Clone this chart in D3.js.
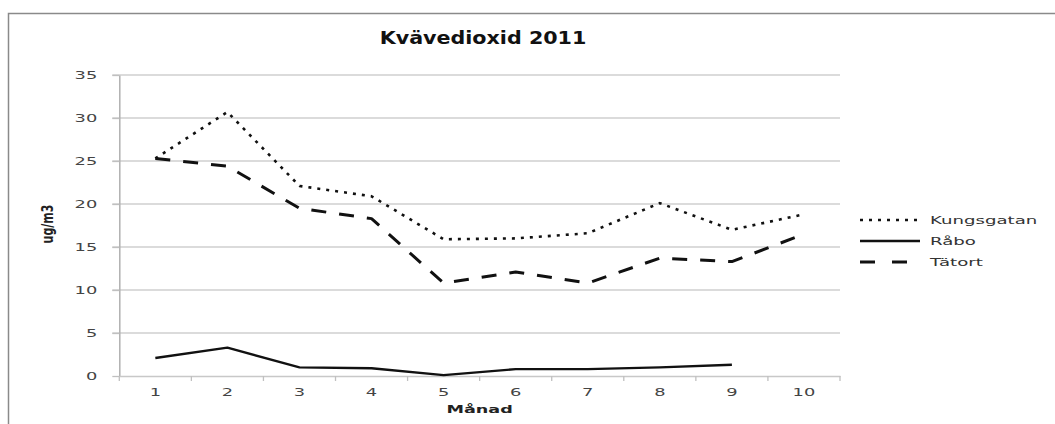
<!DOCTYPE html>
<html>
<head>
<meta charset="utf-8">
<script src="https://cdn.jsdelivr.net/npm/d3@7"></script>
<style>
  body { margin: 0; background: #fff; }
  svg { display: block; }
</style>
</head>
<body>
<div id="chart"></div>
<script>
// data
const months = [1, 2, 3, 4, 5, 6, 7, 8, 9, 10];
const kungsgatan = [25.3, 30.7, 22.1, 20.9, 15.9, 16.0, 16.6, 20.1, 17.0, 18.8];
const rabo = [2.1, 3.3, 1.0, 0.9, 0.1, 0.8, 0.8, 1.0, 1.3, null];
const tatort = [25.3, 24.4, 19.5, 18.3, 10.8, 12.1, 10.8, 13.7, 13.3, 16.5];
const yTicks = [0, 5, 10, 15, 20, 25, 30, 35];

const seriesList = [
  { name: 'Kungsgatan', values: kungsgatan, dash: '3,6', legDash: '3,6', width: 2.6 },
  { name: 'Råbo', values: rabo, dash: null, legDash: null, width: 2.4 },
  { name: 'Tätort', values: tatort, dash: '15,13', legDash: '15,17', width: 3 }
];

const W = 1055, H = 424;
const plot = { left: 119.3, right: 840, top: 75, bottom: 376 };

const svg = d3.select('#chart').append('svg')
  .attr('width', W)
  .attr('height', H);

// the picture is squeezed wide, so text gets a horizontal stretch
function stretch(sel, sx) {
  sel.each(function () {
    const t = d3.select(this);
    const x = +t.attr('x') || 0, y = +t.attr('y') || 0;
    t.attr('x', 0).attr('y', 0)
      .attr('transform', `translate(${x},${y}) scale(${sx},1)`);
  });
}

// outer frame
svg.append('rect')
  .attr('x', 8.5).attr('y', 13.5)
  .attr('width', W + 20).attr('height', H + 20)
  .attr('fill', 'none')
  .attr('stroke', '#8a8a8a')
  .attr('stroke-width', 1.5);

const x = d3.scaleBand().domain(months).range([plot.left, plot.right]).padding(0);
const y = d3.scaleLinear().domain([0, 35]).range([plot.bottom, plot.top]);
const cx = d => x(d) + x.bandwidth() / 2;

// gridlines
svg.append('g')
  .selectAll('line')
  .data(yTicks.filter(v => v > 0))
  .join('line')
  .attr('x1', plot.left - 7).attr('x2', plot.right)
  .attr('y1', d => y(d)).attr('y2', d => y(d))
  .attr('stroke', '#cfcfcf')
  .attr('stroke-width', 1.5);

// y axis
const yAxis = svg.append('g')
  .attr('transform', `translate(${plot.left},0)`)
  .call(d3.axisLeft(y).tickValues(yTicks).tickSize(7).tickSizeOuter(0));
yAxis.select('.domain').attr('stroke', '#b0b0b0').attr('stroke-width', 1.5);
yAxis.selectAll('.tick line').attr('stroke', '#c0c0c0').attr('stroke-width', 1.3);
yAxis.selectAll('.tick text')
  .attr('x', -22)
  .attr('dy', '0.36em')
  .style('font-family', 'DejaVu Sans')
  .style('font-size', '10.5px')
  .attr('fill', '#444')
  .attr('text-anchor', 'end')
  .call(stretch, 1.7);

// x axis
const xAxis = svg.append('g')
  .attr('transform', `translate(0,${plot.bottom})`)
  .call(d3.axisBottom(x).tickSize(0));
xAxis.select('.domain').attr('stroke', '#c8c8c8').attr('stroke-width', 1.5);
xAxis.selectAll('.tick text')
  .attr('y', 20)
  .attr('dy', 0)
  .style('font-family', 'DejaVu Sans')
  .style('font-size', '10.5px')
  .attr('fill', '#444')
  .attr('text-anchor', 'middle')
  .call(stretch, 1.7);
// tick marks at band edges
svg.append('g')
  .selectAll('line')
  .data(months.concat([null]))
  .join('line')
  .attr('x1', (d, i) => i < months.length ? x(d) : plot.right)
  .attr('x2', (d, i) => i < months.length ? x(d) : plot.right)
  .attr('y1', plot.bottom).attr('y2', plot.bottom + 5)
  .attr('stroke', '#c0c0c0')
  .attr('stroke-width', 1.3);

// lines
const line = d3.line()
  .defined(d => d.v != null)
  .x(d => cx(d.m))
  .y(d => y(d.v));

seriesList.forEach(s => {
  svg.append('path')
    .datum(months.map((m, i) => ({ m: m, v: s.values[i] })))
    .attr('d', line)
    .attr('fill', 'none')
    .attr('stroke', '#111')
    .attr('stroke-width', s.width)
    .attr('stroke-linejoin', 'round')
    .attr('stroke-dasharray', s.dash);
});

// title
svg.append('text')
  .attr('x', 483).attr('y', 44)
  .attr('text-anchor', 'middle')
  .style('font-family', 'DejaVu Sans')
  .style('font-weight', 'bold')
  .style('font-size', '17.5px')
  .attr('fill', '#111')
  .text('Kvävedioxid 2011')
  .call(stretch, 1.18);

// axis titles
svg.append('text')
  .attr('x', (plot.left + plot.right) / 2).attr('y', 413)
  .attr('text-anchor', 'middle')
  .style('font-family', 'DejaVu Sans')
  .style('font-weight', 'bold')
  .style('font-size', '11px')
  .attr('fill', '#222')
  .text('Månad')
  .call(stretch, 1.6);

svg.append('text')
  .attr('transform', 'translate(53,224) rotate(-90) scale(1,1.5)')
  .attr('text-anchor', 'middle')
  .style('font-family', 'DejaVu Sans')
  .style('font-weight', 'bold')
  .style('font-size', '11px')
  .attr('fill', '#222')
  .text('ug/m3');

// legend
const legend = svg.append('g');
const legY = [220, 241, 262];
seriesList.forEach((s, i) => {
  legend.append('line')
    .attr('x1', 860).attr('x2', 920)
    .attr('y1', legY[i]).attr('y2', legY[i])
    .attr('stroke', '#111')
    .attr('stroke-width', s.width)
    .attr('stroke-dasharray', s.legDash);
  legend.append('text')
    .attr('x', 930).attr('y', legY[i] + 4)
    .style('font-family', 'DejaVu Sans')
    .style('font-size', '11px')
    .attr('fill', '#333')
    .text(s.name)
    .call(stretch, 1.65);
});
</script>
</body>
</html>
